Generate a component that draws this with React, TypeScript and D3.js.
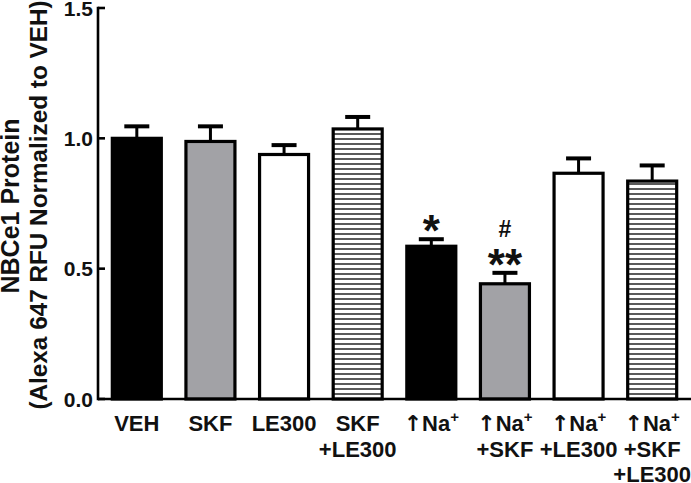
import React from "react";
import * as d3 from "d3";

const categories = ["VEH", "SKF", "LE300", "SKF+LE300", "Na", "Na+SKF", "Na+LE300", "Na+SKF+LE300"];
const labelLines: string[][] = [
  ["VEH"],
  ["SKF"],
  ["LE300"],
  ["SKF", "+LE300"],
  ["↑Na^+"],
  ["↑Na^+", "+SKF"],
  ["↑Na^+", "+LE300"],
  ["↑Na^+", "+SKF", "+LE300"],
];
const means = [1.0, 0.988, 0.938, 1.036, 0.586, 0.442, 0.866, 0.836];
const errors = [0.046, 0.058, 0.036, 0.046, 0.027, 0.042, 0.057, 0.06];
const fills = ["black", "gray", "white", "stripes", "black", "gray", "white", "stripes"];
const yTicks = [0, 0.5, 1.0, 1.5];
const annotations = [
  { index: 4, text: "*", kind: "star" },
  { index: 5, text: "**", kind: "star" },
  { index: 5, text: "#", kind: "hash" },
];

const W = 691;
const H = 483;
const FONT = "'Liberation Sans', Arial, Helvetica, sans-serif";

export default function App() {
  const y = d3.scaleLinear().domain([0, 1.5]).range([399, 8]);
  const x = d3.scaleBand<string>().domain(categories).range([100, 689]).padding(0);
  const step = x.bandwidth();
  const barW = 49;
  const axisX = 98;

  const fillFor = (f: string) =>
    f === "black" ? "#000" : f === "gray" ? "#a2a2a6" : f === "white" ? "#fff" : "url(#stripes)";

  return (
    <svg
      width={W}
      height={H}
      style={{ position: "absolute", left: 0, top: 0, background: "#fff" }}
      fontFamily={FONT}
    >
      <defs>
        <pattern id="stripes" patternUnits="userSpaceOnUse" width={10} height={5}>
          <rect width={10} height={5} fill="#fff" />
          <rect y={3.2} width={10} height={1.6} fill="#333" />
        </pattern>
      </defs>
      <rect width={W} height={H} fill="#fff" />

      {/* bars */}
      {categories.map((c, i) => {
        const cx = (x(c) as number) + step / 2;
        const top = y(means[i]);
        const errTop = y(means[i] + errors[i]);
        return (
          <g key={c}>
            <line x1={cx} x2={cx} y1={top} y2={errTop} stroke="#000" strokeWidth={3} />
            <line x1={cx - 12.5} x2={cx + 12.5} y1={errTop} y2={errTop} stroke="#000" strokeWidth={4} />
            <rect
              x={cx - barW / 2}
              y={top}
              width={barW}
              height={y(0) - top}
              fill={fillFor(fills[i])}
              stroke="#000"
              strokeWidth={3.2}
            />
          </g>
        );
      })}

      {/* axes */}
      <line x1={axisX} x2={axisX} y1={y(1.5) - 1.2} y2={y(0) + 1.2} stroke="#000" strokeWidth={2.6} />
      <line x1={axisX} x2={W} y1={y(0)} y2={y(0)} stroke="#000" strokeWidth={2.6} />
      {yTicks.map((t) => (
        <g key={t}>
          <line x1={axisX} x2={axisX + 7} y1={y(t)} y2={y(t)} stroke="#000" strokeWidth={2.6} />
          <text
            x={93}
            y={y(t) + 7.5}
            textAnchor="end"
            fontSize={21}
            fontWeight="bold"
            fill="#111"
          >
            {d3.format(".1f")(t)}
          </text>
        </g>
      ))}

      {/* x labels */}
      {categories.map((c, i) => {
        const cx = (x(c) as number) + step / 2;
        return (
          <text key={c} textAnchor="middle" fontSize={22} fontWeight="bold" fill="#111">
            {labelLines[i].map((ln, j) => {
              const parts = ln.split("^");
              const hasArrow = parts[0].startsWith("↑");
              return (
                <tspan key={j} x={cx} y={431 + j * 25.5}>
                  {hasArrow ? (
                    <tspan fontFamily="'DejaVu Sans', sans-serif" fontWeight="bold" fill="#111">
                      ↑
                    </tspan>
                  ) : null}
                  {hasArrow ? parts[0].slice(1) : parts[0]}
                  {parts[1] ? (
                    <tspan fontSize={15} dy={-9}>
                      {parts[1]}
                    </tspan>
                  ) : null}
                </tspan>
              );
            })}
          </text>
        );
      })}

      {/* significance annotations */}
      {annotations.map((a, k) => {
        const c = categories[a.index];
        const cx = (x(c) as number) + step / 2;
        const errTop = y(means[a.index] + errors[a.index]);
        if (a.kind === "star") {
          return (
            <text key={k} x={cx} y={errTop + 7} textAnchor="middle" fontSize={44} fontWeight="bold" fill="#111">
              {a.text}
            </text>
          );
        }
        return (
          <text key={k} x={cx} y={errTop - 36} textAnchor="middle" fontSize={23} fontWeight="bold" fill="#111">
            {a.text}
          </text>
        );
      })}

      {/* y title */}
      <text
        transform="translate(18.5,206) rotate(-90)"
        textAnchor="middle"
        fontSize={25}
        fontWeight="bold"
        fill="#111"
      >
        NBCe1 Protein
      </text>
      <text
        transform="translate(46.5,205) rotate(-90)"
        textAnchor="middle"
        fontSize={24.3}
        fontWeight="bold"
        fill="#111"
      >
        (Alexa 647 RFU Normalized to VEH)
      </text>
    </svg>
  );
}
